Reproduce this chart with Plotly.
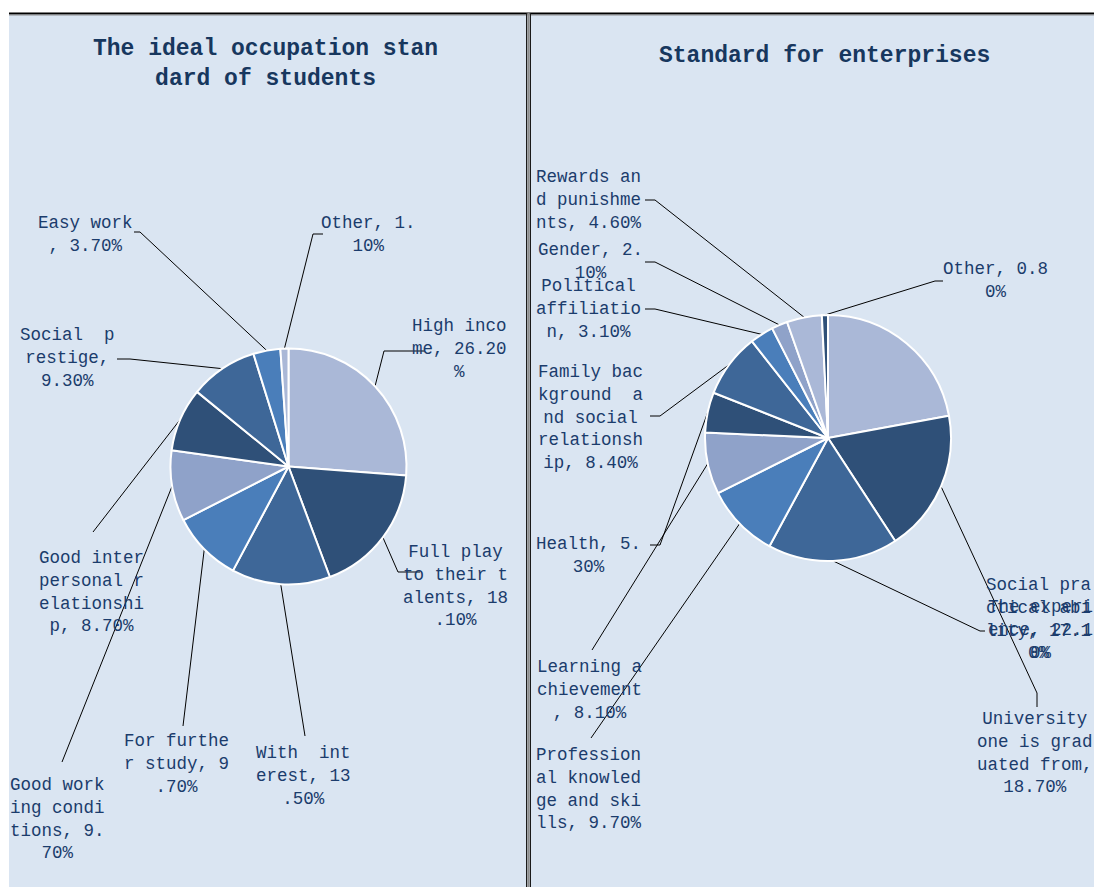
import math
import plotly.graph_objects as go

W, H = 1102, 887          # browser window (page pixels)
OFF = 8                   # default body margin of the html page
FW, FH = W - OFF, H - OFF # figure size so that it fits the window

# ---------------- data ----------------
student_labels = ["High income", "Full play to their talents", "With  interest",
                  "For further study", "Good working conditions",
                  "Good interpersonal relationship", "Social  prestige",
                  "Easy work", "Other"]
student_values = [26.2, 18.1, 13.5, 9.7, 9.7, 8.7, 9.3, 3.7, 1.1]

enterprise_labels = ["The experience", "University one is graduated from",
                     "Social practical ability",
                     "Professional knowledge and skills", "Learning achievement",
                     "Health", "Family background  and social relationship",
                     "Political affiliation", "Gender",
                     "Rewards and punishments", "Other"]
enterprise_values = [22.1, 18.7, 17.1, 9.7, 8.1, 5.3, 8.4, 3.1, 2.1, 4.6, 0.8]

titles = ["The ideal occupation stan<br>dard of students", "Standard for enterprises"]

# ---------------- style / layout ----------------
LIGHT, DARK, MED, BRIGHT, GRAY = "#aab8d7", "#2f5078", "#3e6798", "#4a7eba", "#8fa2c9"
student_colors = [LIGHT, DARK, MED, BRIGHT, GRAY, DARK, MED, BRIGHT, LIGHT]
enterprise_colors = [LIGHT, DARK, MED, BRIGHT, GRAY, DARK, MED, BRIGHT, GRAY, LIGHT, DARK]

PANEL_BG = "#dae5f2"
TEXT_C = "#1b3c6c"
FONT = "Liberation Mono"

# pie geometry in page pixels
pies = [
    dict(cx=288.5, cy=466.5, r=118),
    dict(cx=828.0, cy=438.0, r=123),
]

# per-label: wrap width, text centre (page px), leader waypoints after the slice anchor
student_layout = [
    dict(w=9, t=(459, 349), pts=[(384, 351), (425, 351)]),
    dict(w=10, t=(455, 586), pts=[(398, 572), (420, 572)]),
    dict(w=9, t=(303, 776), pts=[(305, 736)]),
    dict(w=10, t=(176, 764), pts=[(183, 726)]),
    dict(w=9, t=(57, 819), pts=[(62, 762)]),
    dict(w=10, t=(91, 592), pts=[(93, 532)]),
    dict(w=9, t=(67, 358), pts=[(130, 359), (117, 359)]),
    dict(w=9, t=(85, 234), pts=[(140, 232), (134, 232)]),
    dict(w=9, t=(368, 234), pts=[(313, 234), (323, 234)]),
]
enterprise_layout = [
    dict(w=10, t=(1040, 630), pts=None),
    dict(w=11, t=(1035, 753), pts=[(1037, 693), (1037, 707)]),
    dict(w=10, t=(1038, 619), pts=[(980, 631), (985, 631)]),
    dict(w=10, t=(589, 789), pts=[(591, 738)]),
    dict(w=10, t=(589, 690), pts=[(592, 650)]),
    dict(w=10, t=(588, 555), pts=[(660, 545), (650, 545)]),
    dict(w=10, t=(590, 417), pts=[(660, 416), (650, 416)]),
    dict(w=10, t=(588, 309), pts=[(655, 309), (645, 309)]),
    dict(w=10, t=(590, 261), pts=[(655, 262), (645, 262)]),
    dict(w=10, t=(589, 200), pts=[(655, 200), (645, 200)]),
    dict(w=10, t=(995, 280), pts=[(935, 281), (943, 281)]),
]


def wrap(s, w):
    lines = []
    s = s.strip()
    while s:
        lines.append(s[:w].rstrip())
        s = s[w:].lstrip()
    return "<br>".join(lines)


fig = go.Figure()

# panel backgrounds and frame (page px coordinates through the overlay axes)
shapes = [
    dict(type="rect", x0=9, x1=W + 5, y0=14, y1=H + 5, fillcolor=PANEL_BG, line=dict(width=0), layer="below"),
    dict(type="line", x0=9, x1=W + 5, y0=13.5, y1=13.5, line=dict(color="#000000", width=2), layer="below"),
    dict(type="line", x0=9, x1=W + 5, y0=15, y1=15, line=dict(color="#8c8c8c", width=1), layer="below"),
    dict(type="line", x0=526.5, x1=526.5, y0=13, y1=H + 5, line=dict(color="#1a1a1a", width=1), layer="below"),
    dict(type="line", x0=528.5, x1=528.5, y0=13, y1=H + 5, line=dict(color="#8c8c8c", width=2.5), layer="below"),
    dict(type="line", x0=530.5, x1=530.5, y0=13, y1=H + 5, line=dict(color="#1a1a1a", width=1), layer="below"),
]

annotations = []

datasets = [
    (student_labels, student_values, student_colors, student_layout),
    (enterprise_labels, enterprise_values, enterprise_colors, enterprise_layout),
]

for (labels, values, colors, lay), geo in zip(datasets, pies):
    cx, cy, r = geo["cx"], geo["cy"], geo["r"]
    fig.add_trace(go.Pie(
        labels=labels, values=values, sort=False, direction="clockwise", rotation=0,
        marker=dict(colors=colors, line=dict(color="#ffffff", width=2)),
        textinfo="none", hoverinfo="label+percent", showlegend=False,
        domain=dict(x=[(cx - r - OFF) / FW, (cx + r - OFF) / FW],
                    y=[1 - (cy + r - OFF) / FH, 1 - (cy - r - OFF) / FH]),
    ))
    total = sum(values)
    cum = 0.0
    for lab, v, L in zip(labels, values, lay):
        mid = (cum + v / 2) / total * 2 * math.pi
        cum += v
        ax_, ay_ = cx + r * math.sin(mid), cy - r * math.cos(mid)
        if L["pts"]:
            xs = [ax_] + [p[0] for p in L["pts"]]
            ys = [ay_] + [p[1] for p in L["pts"]]
            fig.add_trace(go.Scatter(x=xs, y=ys, mode="lines", line=dict(color="#000000", width=1),
                                     hoverinfo="skip", showlegend=False, xaxis="x", yaxis="y"))
        annotations.append(dict(
            x=L["t"][0], y=L["t"][1], xref="x", yref="y", showarrow=False,
            text=wrap(f"{lab}, {v:.2f}%", L["w"]), align="center",
            font=dict(family=FONT, size=17.5, color=TEXT_C),
        ))

annotations.append(dict(x=265, y=64, xref="x", yref="y", showarrow=False, text="<b>" + titles[0] + "</b>",
                        align="center", font=dict(family=FONT, size=23, color="#17375e")))
annotations.append(dict(x=824, y=56, xref="x", yref="y", showarrow=False, text="<b>" + titles[1] + "</b>",
                        align="center", font=dict(family=FONT, size=23, color="#17375e")))

fig.update_layout(
    width=FW, height=FH,
    margin=dict(l=0, r=0, t=0, b=0),
    paper_bgcolor="#ffffff", plot_bgcolor="rgba(0,0,0,0)",
    xaxis=dict(range=[OFF, W], visible=False, fixedrange=True, domain=[0, 1]),
    yaxis=dict(range=[H, OFF], visible=False, fixedrange=True, domain=[0, 1]),
    shapes=shapes, annotations=annotations,
)

fig.write_html("out.html")
